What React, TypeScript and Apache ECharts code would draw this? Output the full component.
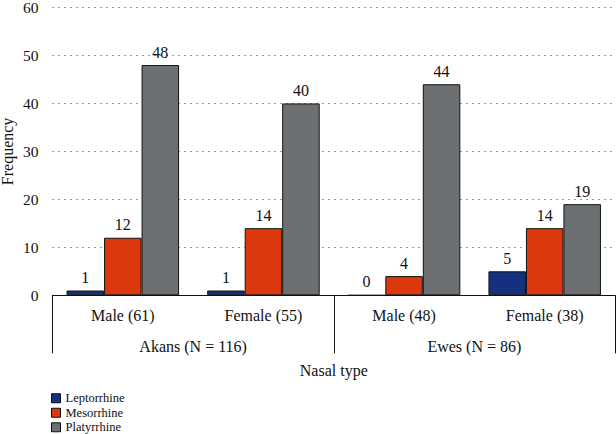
import React, { useEffect, useRef } from "react";
import * as echarts from "echarts";

const categories = ["Male (61)", "Female (55)", "Male (48)", "Female (38)"];
const groups = ["Akans (N = 116)", "Ewes (N = 86)"];
const leptorrhine = [1, 1, 0, 5];
const mesorrhine = [12, 14, 4, 14];
const platyrrhine = [48, 40, 44, 19];
const seriesNames = ["Leptorrhine", "Mesorrhine", "Platyrrhine"];
const colors = ["#14307f", "#dc380e", "#6d7073"];

const FONT = "Liberation Serif";
const CSS = `#root svg text, #root svg tspan { font-family: 'Liberation Serif', serif !important; }`;

export default function App() {
  const ref = useRef<HTMLDivElement>(null);
  useEffect(() => {
    if (!ref.current) return;
    const chart = echarts.init(ref.current, undefined, { renderer: "svg" });
    const values = [leptorrhine, mesorrhine, platyrrhine];
    const series = values.map((data, i) => ({
      type: "bar",
      name: seriesNames[i],
      data,
      xAxisIndex: 0,
      barGap: "0%",
      barCategoryGap: "20%",
      itemStyle: { color: colors[i], borderColor: "#111", borderWidth: 1 },
      label: {
        show: true,
        position: "top",
        distance: 5,
        color: "#111",
        fontFamily: FONT,
        fontSize: 16,
      },
    }));
    chart.setOption({
      animation: false,
      textStyle: { fontFamily: FONT },
      grid: { left: 52.5, right: 1, top: 7.5, bottom: 138.7, outerBoundsMode: "none", containLabel: false },
      legend: {
        orient: "vertical",
        left: 51,
        top: 391.5,
        height: 45,
        padding: 0,
        icon: "rect",
        itemWidth: 9,
        itemHeight: 9,
        itemGap: 1,
        data: seriesNames,
        textStyle: { fontFamily: FONT, fontSize: 12.5, color: "#111", lineHeight: 13.5 },
        itemStyle: { borderColor: "#111", borderWidth: 1 },
      },
      xAxis: [
        {
          type: "category",
          data: categories,
          position: "bottom",
          axisLine: { show: true, lineStyle: { color: "#111", width: 1 } },
          axisTick: { show: false },
          axisLabel: { margin: 12, fontFamily: FONT, fontSize: 16, color: "#111" },
        },
        {
          type: "category",
          data: groups,
          position: "bottom",
          axisLine: { show: false },
          axisTick: { show: true, length: 58, lineStyle: { color: "#111", width: 1 } },
          axisLabel: { margin: 43, fontFamily: FONT, fontSize: 16, color: "#111" },
          name: "Nasal type",
          nameLocation: "middle",
          nameGap: 67,
          nameTextStyle: { fontFamily: FONT, fontSize: 16, color: "#111" },
        },
      ],
      yAxis: {
        type: "value",
        min: 0,
        max: 60,
        interval: 10,
        axisLine: { show: false },
        axisTick: { show: false },
        axisLabel: { margin: 14, fontFamily: FONT, fontSize: 15.5, color: "#111" },
        splitLine: { show: true, lineStyle: { color: "#333", width: 1, type: [1, 5] } },
        name: "Frequency",
        nameLocation: "middle",
        nameRotate: 90,
        nameGap: 37,
        nameMoveOverlap: false,
        nameTextStyle: { fontFamily: FONT, fontSize: 16, color: "#111" },
      },
      series,
    });
    return () => chart.dispose();
  }, []);
  return (
    <div>
      <style>{CSS}</style>
      <div
        ref={ref}
        style={{ position: "fixed", left: 0, top: 0, width: 616, height: 434, background: "#fff" }}
      />
    </div>
  );
}
